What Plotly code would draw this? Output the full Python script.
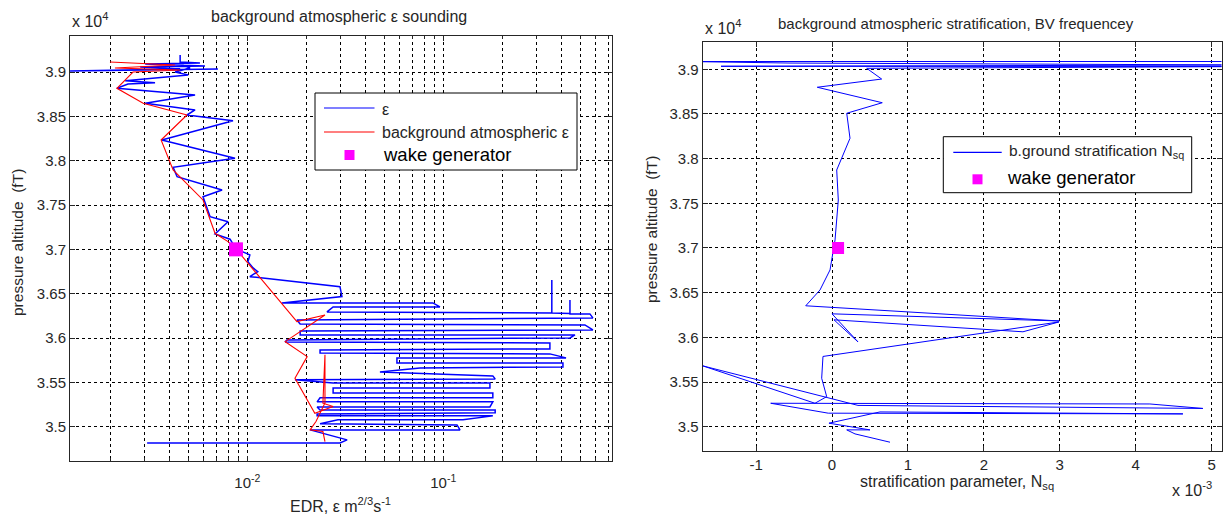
import plotly.graph_objects as go

W, H = 1223, 516
FONT = "Liberation Sans, Arial, sans-serif"
TXT = "#262626"

# ---------------- left panel: EDR sounding ----------------
eps_edr = [
    7.08e-3, 1.245e-3, 1.88e-3, 4.54e-3, 2.84e-3, 6.08e-3, 3.01e-3, 5.73e-3, 4.54e-3, 4.54e-3,
    4.54e-3, 5.1e-3, 4.28e-3, 4.99e-3, 2.38e-3, 3.38e-3, 2.46e-3, 2.16e-3, 3.19e-3, 5.41e-3,
    3.01e-3, 5.41e-3, 4.92e-3, 8.45e-3, 3.66e-3, 8.65e-3, 4.18e-3, 4.38e-3, 7.43e-3, 5.94e-3,
    6.45e-3, 7.97e-3, 6.84e-3, 8.16e-3, 8.75e-3, 1.03e-2, 1.007e-2, 1.07e-2, 1.13e-2, 1.03e-2,
    2.97e-2, 3.04e-2,
    1.50e-2, 8.85e-2, 9.61e-2, 2.74e-2, 2.55e-2, 0.358, 0.358, 0.358, 0.443, 0.443,
    0.443, 0.56, 0.58, 1.79e-2, 1.86e-2, 0.528, 0.58, 1.86e-2, 1.86e-2, 0.47,
    0.443, 1.59e-2, 1.56e-2, 0.35, 0.35, 2.35e-2, 2.35e-2, 0.35, 0.423, 5.8e-2,
    5.8e-2, 0.408, 0.408, 7.6e-2, 4.75e-2, 0.179, 0.184, 1.75e-2, 2.74e-2, 0.173,
    0.173, 2.74e-2, 2.74e-2, 0.179, 0.179, 2.35e-2, 2.27e-2, 0.179, 0.173, 2.27e-2,
    2.35e-2, 0.184, 0.184, 2.27e-2, 2.27e-2, 0.179, 0.126, 2.9e-2, 2.35e-2, 0.1175,
    0.1217, 2.09e-2, 2.49e-2, 3.23e-2, 2.97e-2, 3.08e-3,
]
eps_alt = [
    39034, 39011, 39023, 39034, 39056, 39068, 39090, 39101, 39113, 39192,
    39090, 39045, 39000, 38966, 38902, 38879, 38865, 38816, 38786, 38741,
    38647, 38572, 38515, 38451, 38233, 38027, 37926, 37820, 37670, 37594,
    37369, 37312, 37174, 37114, 37005, 36937, 36861, 36790, 36749, 36692,
    36579, 36467,
    36396, 36396, 36351, 36351, 36294, 36283, 36655, 36283, 36277, 36429,
    36272, 36272, 36227, 36204, 36159, 36148, 36091, 36080, 36035, 36035,
    36001, 35979, 35956, 35945, 35877, 35866, 35832, 35821, 35776, 35776,
    35719, 35719, 35674, 35663, 35618, 35573, 35539, 35528, 35494, 35494,
    35437, 35437, 35381, 35381, 35325, 35325, 35280, 35280, 35223, 35223,
    35189, 35189, 35156, 35144, 35122, 35122, 35077, 35077, 35032, 35020,
    34964, 34964, 34919, 34851, 34817, 34817,
]
bg_edr = [1.99e-3, 4.28e-3, 2.11e-3, 4.54e-3, 2.61e-3, 2.16e-3, 2.94e-3, 4.92e-3, 3.63e-3, 4.18e-3,
          5.94e-3, 6.84e-3, 7.97e-3, 8.75e-3, 1.79e-2, 2.49e-2, 1.56e-2, 2.02e-2, 1.75e-2, 2.21e-2,
          2.74e-2, 2.43e-2, 2.49e-2, 2.49e-2, 2.24e-2, 2.09e-2, 2.43e-2, 2.49e-2]
bg_alt = [39113, 39079, 39045, 39023, 39000, 38816, 38647, 38515, 38233, 37895,
          37557, 37181, 37087, 37005, 36185, 36260, 35959, 35790, 35547, 35152,
          35227, 35265, 35810, 35268, 35058, 34964, 34945, 34832]
wake_edr = [0.00875]
wake_alt = [37000]

# ---------------- right panel: stratification ----------------
nsq_e3 = [5.50, -1.87, -0.553, 5.50, -1.462, 5.50, 0.457, 0.654, -0.194, 0.662,
          0.194, 0.237, 0.062, 0.083, 0.040, -0.026, -0.158, -0.346, 2.993, 0.0,
          0.342, 0.026, 2.515, 2.989, -0.119, -0.136, -0.070, -0.224, -1.70, 0.342,
          4.885, 4.187, -0.807, -0.049, 4.622, 0.632, -0.040, 0.500, 0.194, 0.303, 0.764]
nsq_alt = [39087, 39087, 39070, 39048, 39034, 39031, 39011, 38891, 38799, 38626,
           38508, 38228, 37873, 37537, 37090, 36754, 36530, 36353, 36183, 36263,
           35949, 36196, 36062, 36172, 35786, 35542, 35336, 35262, 35680, 35238,
           35204, 35254, 35262, 35151, 35143, 35165, 35039, 34964, 34964, 34919, 34826]
nsq = [v * 1e-3 for v in nsq_e3]
wake_nsq = [0.08e-3]
wake_nsq_alt = [37000]

alt_ticks = [35000, 35500, 36000, 36500, 37000, 37500, 38000, 38500, 39000]
alt_ticktext = ["3.5", "3.55", "3.6", "3.65", "3.7", "3.75", "3.8", "3.85", "3.9"]
edr_ticks = [0.01, 0.1]
edr_ticktext = ["10<sup>-2</sup>", "10<sup>-1</sup>"]
edr_minor = [2e-3, 3e-3, 4e-3, 5e-3, 6e-3, 7e-3, 8e-3, 9e-3,
             2e-2, 3e-2, 4e-2, 5e-2, 6e-2, 7e-2, 8e-2, 9e-2,
             2e-1, 3e-1, 4e-1, 5e-1, 6e-1, 7e-1]
nsq_ticks = [-1e-3, 0, 1e-3, 2e-3, 3e-3, 4e-3, 5e-3]
nsq_ticktext = ["-1", "0", "1", "2", "3", "4", "5"]


def PX(x):
    return x / W


def PY(y):
    return 1 - y / H


fig = go.Figure()
fig.add_trace(go.Scatter(x=eps_edr, y=eps_alt, mode="lines", line=dict(color="#0000ff", width=1.5),
                         xaxis="x", yaxis="y", showlegend=False, name="ε"))
fig.add_trace(go.Scatter(x=bg_edr, y=bg_alt, mode="lines", line=dict(color="#ff0000", width=1.1),
                         xaxis="x", yaxis="y", showlegend=False, name="background atmospheric ε"))
fig.add_trace(go.Scatter(x=wake_edr, y=wake_alt, mode="markers",
                         marker=dict(symbol="square", size=14, color="#ff00ff"),
                         xaxis="x", yaxis="y", showlegend=False, name="wake generator"))
fig.add_trace(go.Scatter(x=nsq, y=nsq_alt, mode="lines", line=dict(color="#0000ff", width=1),
                         xaxis="x2", yaxis="y2", showlegend=False, name="b.ground stratification"))
fig.add_trace(go.Scatter(x=wake_nsq, y=wake_nsq_alt, mode="markers",
                         marker=dict(symbol="square", size=12, color="#ff00ff"),
                         xaxis="x2", yaxis="y2", showlegend=False, name="wake generator"))

common = dict(showgrid=True, gridcolor="#000000", gridwidth=1, griddash="3px,3px",
              showline=True, linecolor=TXT, linewidth=1, mirror="ticks",
              ticks="inside", ticklen=5, tickcolor=TXT, zeroline=False,
              tickfont=dict(family=FONT, size=15, color=TXT))

fig.update_layout(
    width=W, height=H, margin=dict(l=0, r=0, t=0, b=0),
    paper_bgcolor="white", plot_bgcolor="white", showlegend=False,
    xaxis=dict(common, type="log", range=[-2.905, -0.139], domain=[PX(70), PX(612)], anchor="y",
               tickmode="array", tickvals=edr_ticks, ticktext=edr_ticktext, ticklabelstandoff=8,
               minor=dict(tickvals=edr_minor, showgrid=True, gridcolor="#000000", griddash="3px,3px",
                          gridwidth=1, ticks="inside", ticklen=3, tickcolor=TXT)),
    yaxis=dict(common, range=[34613, 39406], domain=[PY(461), PY(36)], anchor="x",
               tickmode="array", tickvals=alt_ticks, ticktext=alt_ticktext),
    xaxis2=dict(common, range=[-1.703e-3, 5.13e-3], domain=[PX(702.7), PX(1221.5)], anchor="y2",
                tickmode="array", tickvals=nsq_ticks, ticktext=nsq_ticktext),
    yaxis2=dict(common, range=[34731, 39309], domain=[PY(450.7), PY(41.7)], anchor="x2",
                tickmode="array", tickvals=alt_ticks, ticktext=alt_ticktext),
)

ann = []


def add_text(text, x, y, size=15.5, xanchor="center", angle=0, color=TXT):
    ann.append(dict(text=text, x=PX(x), y=PY(y), xref="paper", yref="paper", showarrow=False,
                    xanchor=xanchor, yanchor="middle", textangle=angle,
                    font=dict(family=FONT, size=size, color=color)))


add_text("background atmospheric ε sounding", 339, 16, size=16)
add_text("background atmospheric stratification, BV frequencey", 776, 24, size=15, xanchor="left")
add_text("x 10<sup>4</sup>", 70, 20, size=16, xanchor="left")
add_text("x 10<sup>4</sup>", 703, 27, size=16, xanchor="left")
add_text("x 10<sup>-3</sup>", 1214, 489, size=16, xanchor="right")
add_text("pressure altitude  (fT)", 18, 243, angle=-90)
add_text("pressure altitude  (fT)", 651, 230, angle=-90)
add_text("EDR, ε m<sup>2/3</sup>s<sup>-1</sup>", 340, 505, size=16)
add_text("stratification parameter, N<sub>sq</sub>", 957, 482, size=16)

shapes = []
# left legend
shapes.append(dict(type="rect", xref="paper", yref="paper", x0=PX(315), x1=PX(577), y0=PY(170), y1=PY(93),
                   line=dict(color="#000000", width=1), fillcolor="white", layer="above"))
shapes.append(dict(type="line", xref="paper", yref="paper", x0=PX(324), x1=PX(374.5), y0=PY(108), y1=PY(108),
                   line=dict(color="#0000ff", width=1.2), layer="above"))
shapes.append(dict(type="line", xref="paper", yref="paper", x0=PX(324), x1=PX(374.5), y0=PY(132), y1=PY(132),
                   line=dict(color="#ff0000", width=1.2), layer="above"))
shapes.append(dict(type="rect", xref="paper", yref="paper", x0=PX(344.5), x1=PX(354.5), y0=PY(160), y1=PY(150),
                   line=dict(width=0), fillcolor="#ff00ff", layer="above"))
add_text("ε", 380, 110, size=16, xanchor="left")
add_text("background atmospheric ε", 380, 132, size=16, xanchor="left")
add_text("wake generator", 381, 154, size=18.5, xanchor="left", color="#000000")

# right legend
shapes.append(dict(type="rect", xref="paper", yref="paper", x0=PX(943.3), x1=PX(1191.7), y0=PY(192.7), y1=PY(136.7),
                   line=dict(color="#000000", width=1), fillcolor="white", layer="above"))
shapes.append(dict(type="line", xref="paper", yref="paper", x0=PX(953.3), x1=PX(1001.7), y0=PY(152.3), y1=PY(152.3),
                   line=dict(color="#0000ff", width=1.2), layer="above"))
shapes.append(dict(type="rect", xref="paper", yref="paper", x0=PX(972.5), x1=PX(982.5), y0=PY(184.3), y1=PY(174.3),
                   line=dict(width=0), fillcolor="#ff00ff", layer="above"))
add_text("b.ground stratification N<sub>sq</sub>", 1006.5, 151, size=15.5, xanchor="left")
add_text("wake generator", 1005, 178, size=18.5, xanchor="left", color="#000000")

fig.update_layout(annotations=ann, shapes=shapes)
fig.write_html("out.html")
